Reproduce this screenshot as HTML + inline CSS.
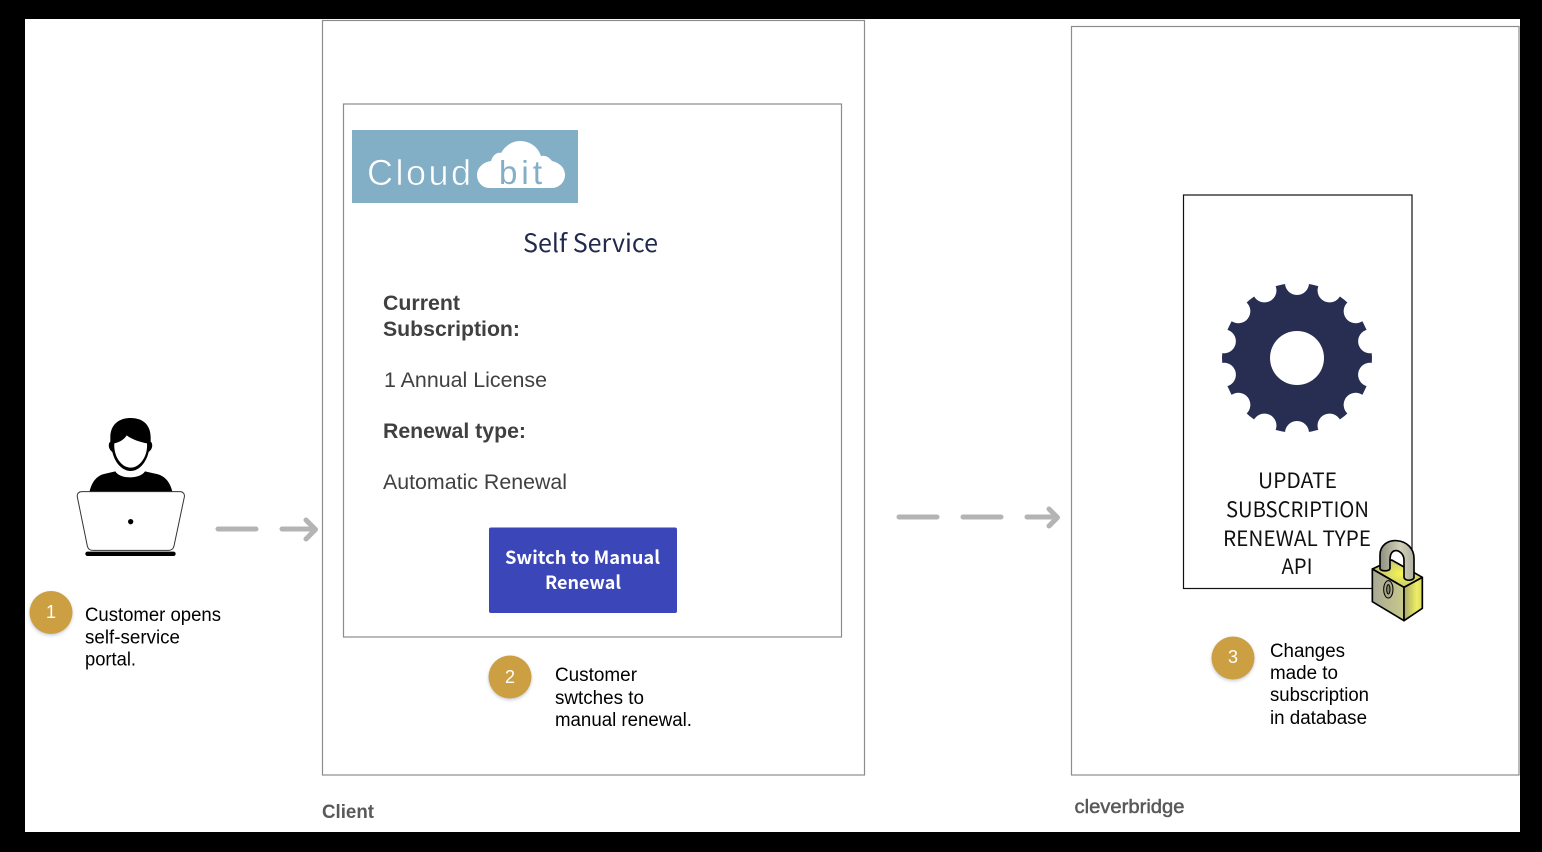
<!DOCTYPE html>
<html><head><meta charset="utf-8"><style>
html,body{margin:0;padding:0;background:#000}
svg{display:block}
.a{font-family:"Liberation Sans",Arial,sans-serif}
.n{font-family:"Noto Sans CJK JP","Liberation Sans",sans-serif}
</style></head><body>
<svg width="1542" height="852" viewBox="0 0 1542 852" xmlns="http://www.w3.org/2000/svg">
<defs>
<filter id="s" x="-20%" y="-20%" width="140%" height="150%"><feDropShadow dx="0" dy="1.5" stdDeviation="1.5" flood-color="#8a9ab0" flood-opacity=".5"/></filter>
<linearGradient id="lf" x1="0" x2="1" y1="0" y2="0"><stop offset="0" stop-color="#a8a896"/><stop offset="1" stop-color="#c9c98a"/></linearGradient>
<linearGradient id="lr" x1="0" x2="1" y1="0" y2="0"><stop offset="0" stop-color="#a8a870"/><stop offset=".7" stop-color="#eeee62"/><stop offset="1" stop-color="#d8d870"/></linearGradient>
<linearGradient id="ls" x1="0" x2="1" y1="0" y2="0"><stop offset="0" stop-color="#8f8f80"/><stop offset=".6" stop-color="#d0d0b8"/><stop offset="1" stop-color="#b0b0a0"/></linearGradient>
<radialGradient id="lt" cx=".6" cy=".5" r=".6"><stop offset="0" stop-color="#f7f750"/><stop offset="1" stop-color="#bcbc80"/></radialGradient>
</defs>
<rect width="1542" height="852" fill="#000"/>
<rect x="25" y="19" width="1495" height="813" fill="#fff"/>

<rect x="322.500" y="20.500" width="542" height="754.500" fill="#fff" stroke="#8c8c8c" stroke-width="1.200"/>
<rect x="343.500" y="104" width="498" height="533" fill="#fff" stroke="#8c8c8c" stroke-width="1.200"/>
<rect x="1071.500" y="26.500" width="447.500" height="748.500" fill="#fff" stroke="#8c8c8c" stroke-width="1.200"/>
<rect x="1183.500" y="195" width="228.500" height="393.500" fill="#fff" stroke="#111" stroke-width="1.200"/>

<!-- person -->
<g transform="translate(0,400) scale(.33333)">
<path d="M268 278C275 245 290 228 312 222L346 214C360 238 420 238 435 214L470 222C495 228 510 245 518 278Z" fill="#000"/>
<path d="M392 54C352 54 331 78 331 112L331 125C324 130 324 147 337 156C345 190 368 213 392 213C416 213 438 190 446 156C459 147 459 130 452 125L452 112C452 78 432 54 392 54Z" fill="#000"/>
<path d="M343 130C362 126 374 116 380 106C395 118 420 126 441 130C444 168 420 203 392 203C364 203 340 168 343 130Z" fill="#fff"/>
<path d="M245 275H540C549 275 555 282 553 291L522 438C520 447 514 451 506 451H278C270 451 264 447 262 438L232 291C230 282 236 275 245 275Z" fill="#fff" stroke="#333" stroke-width="3"/>
<rect x="256" y="455" width="271" height="13" rx="6.500" fill="#000"/>
<circle cx="392" cy="365" r="8" fill="#000"/>
</g>

<!-- arrows -->
<g fill="none" stroke="#b4b4b4" stroke-width="5" stroke-linecap="round" stroke-linejoin="round">
<path d="M218 529H256M282 529H314M306 520L315.500 529.500L306 539"/>
<path d="M899 517H937M963 517H1001M1027 517H1056M1049 509L1057.500 517.500L1049 526"/>
</g>

<!-- logo -->
<rect x="352" y="130" width="226" height="73" fill="#82aec6"/>
<text class="a" x="367" y="185" font-size="36" fill="#fff" stroke="#82aec6" stroke-width=".6" textLength="104" lengthAdjust="spacing">Cloud</text>
<path d="M490 188C481 188 477 181 477 175C477 168 483 162 491 161C493 155 497 152 501 153C505 146 512 141 520 141C530 141 538 147 541 156C545 155 549 157 552 161C560 163 565 168 565 175C565 182 559 188 552 188Z" fill="#fff"/>
<text class="a" x="499" y="184" font-size="33" fill="#82aec6" textLength="43" lengthAdjust="spacing">bit</text>

<text class="n" x="523" y="252" font-size="25" fill="#1f2a4d" textLength="135" lengthAdjust="spacingAndGlyphs">Self Service</text>

<g class="a" fill="#404040" font-size="21">
<text x="383" y="310" font-weight="bold" textLength="77" lengthAdjust="spacingAndGlyphs">Current</text>
<text x="383" y="336" font-weight="bold" textLength="137" lengthAdjust="spacingAndGlyphs">Subscription:</text>
<text x="384" y="387" textLength="163" lengthAdjust="spacingAndGlyphs">1 Annual License</text>
<text x="383" y="438" font-weight="bold" textLength="143" lengthAdjust="spacingAndGlyphs">Renewal type:</text>
<text x="383" y="489" textLength="184" lengthAdjust="spacingAndGlyphs">Automatic Renewal</text>
</g>

<!-- button -->
<rect x="489" y="527.500" width="188" height="85.500" rx="2" fill="#3b46b8"/>
<g class="n" fill="#fff" font-size="18" font-weight="700">
<text x="505" y="564" textLength="155" lengthAdjust="spacingAndGlyphs">Switch to Manual</text>
<text x="545" y="589" textLength="76" lengthAdjust="spacingAndGlyphs">Renewal</text>
</g>

<!-- gear -->
<circle cx="1297" cy="358" r="75" fill="#272e52"/>
<g fill="#fff">
<circle cx="1297" cy="283" r="12" transform="rotate(0 1297 358)"/>
<circle cx="1297" cy="283" r="12" transform="rotate(25.71 1297 358)"/>
<circle cx="1297" cy="283" r="12" transform="rotate(51.43 1297 358)"/>
<circle cx="1297" cy="283" r="12" transform="rotate(77.14 1297 358)"/>
<circle cx="1297" cy="283" r="12" transform="rotate(102.86 1297 358)"/>
<circle cx="1297" cy="283" r="12" transform="rotate(128.57 1297 358)"/>
<circle cx="1297" cy="283" r="12" transform="rotate(154.29 1297 358)"/>
<circle cx="1297" cy="283" r="12" transform="rotate(180 1297 358)"/>
<circle cx="1297" cy="283" r="12" transform="rotate(205.71 1297 358)"/>
<circle cx="1297" cy="283" r="12" transform="rotate(231.43 1297 358)"/>
<circle cx="1297" cy="283" r="12" transform="rotate(257.14 1297 358)"/>
<circle cx="1297" cy="283" r="12" transform="rotate(282.86 1297 358)"/>
<circle cx="1297" cy="283" r="12" transform="rotate(308.57 1297 358)"/>
<circle cx="1297" cy="283" r="12" transform="rotate(334.29 1297 358)"/>
<circle cx="1297" cy="358" r="27"/>
</g>

<g class="n" fill="#111" font-size="21">
<text x="1258" y="488" textLength="79" lengthAdjust="spacingAndGlyphs">UPDATE</text>
<text x="1226" y="517" textLength="143" lengthAdjust="spacingAndGlyphs">SUBSCRIPTION</text>
<text x="1223" y="546" textLength="148" lengthAdjust="spacingAndGlyphs">RENEWAL TYPE</text>
<text x="1281.500" y="574" textLength="31" lengthAdjust="spacingAndGlyphs">API</text>
</g>

<!-- lock -->
<g transform="translate(1180,500) scale(.33333)" stroke="#000" stroke-width="5" stroke-linejoin="round">
<path d="M577 207L672 262L727 232L635 180Z" fill="url(#lt)"/>
<path d="M577 207L672 262V362L577 305Z" fill="url(#lf)"/>
<path d="M672 262L727 232V325L672 362Z" fill="url(#lr)"/>
<path d="M600 205V165C600 135 625 120 650 122C680 124 702 145 702 175V232C702 242 675 245 672 232V180C672 160 655 150 645 152C635 154 630 165 630 180V205C630 215 600 215 600 205Z" fill="url(#ls)"/>
<ellipse cx="625" cy="268" rx="14" ry="26" fill="#aaa98c" stroke-width="3"/>
<ellipse cx="625" cy="268" rx="5" ry="14" fill="#8a8a70" stroke-width="3"/>
</g>

<!-- badges -->
<g fill="#cca042" filter="url(#s)">
<circle cx="51" cy="612.500" r="21.500"/>
<circle cx="510" cy="677" r="21.500"/>
<circle cx="1233" cy="658" r="21.500"/>
</g>
<g class="a" fill="#fff" font-size="18" text-anchor="middle">
<text x="51" y="618">1</text>
<text x="510" y="683">2</text>
<text x="1233" y="663">3</text>
</g>

<g class="a" fill="#000" font-size="19">
<text x="85" y="621" textLength="136" lengthAdjust="spacingAndGlyphs">Customer opens</text>
<text x="85" y="643.500" textLength="95" lengthAdjust="spacingAndGlyphs">self-service</text>
<text x="85" y="665.500" textLength="51" lengthAdjust="spacingAndGlyphs">portal.</text>
<text x="555" y="681" textLength="82" lengthAdjust="spacingAndGlyphs">Customer</text>
<text x="555" y="704" textLength="89" lengthAdjust="spacingAndGlyphs">swtches to</text>
<text x="555" y="726" textLength="137" lengthAdjust="spacingAndGlyphs">manual renewal.</text>
<text x="1270" y="657" textLength="75" lengthAdjust="spacingAndGlyphs">Changes</text>
<text x="1270" y="679" textLength="68" lengthAdjust="spacingAndGlyphs">made to</text>
<text x="1270" y="701" textLength="99" lengthAdjust="spacingAndGlyphs">subscription</text>
<text x="1270" y="724" textLength="97" lengthAdjust="spacingAndGlyphs">in database</text>
</g>

<g class="a" fill="#595959" font-size="19.500">
<text x="322" y="818" font-weight="bold" textLength="52" lengthAdjust="spacingAndGlyphs">Client</text>
<text x="1074.500" y="813" stroke="#595959" stroke-width=".5" textLength="110" lengthAdjust="spacingAndGlyphs">cleverbridge</text>
</g>
</svg>
</body></html>
